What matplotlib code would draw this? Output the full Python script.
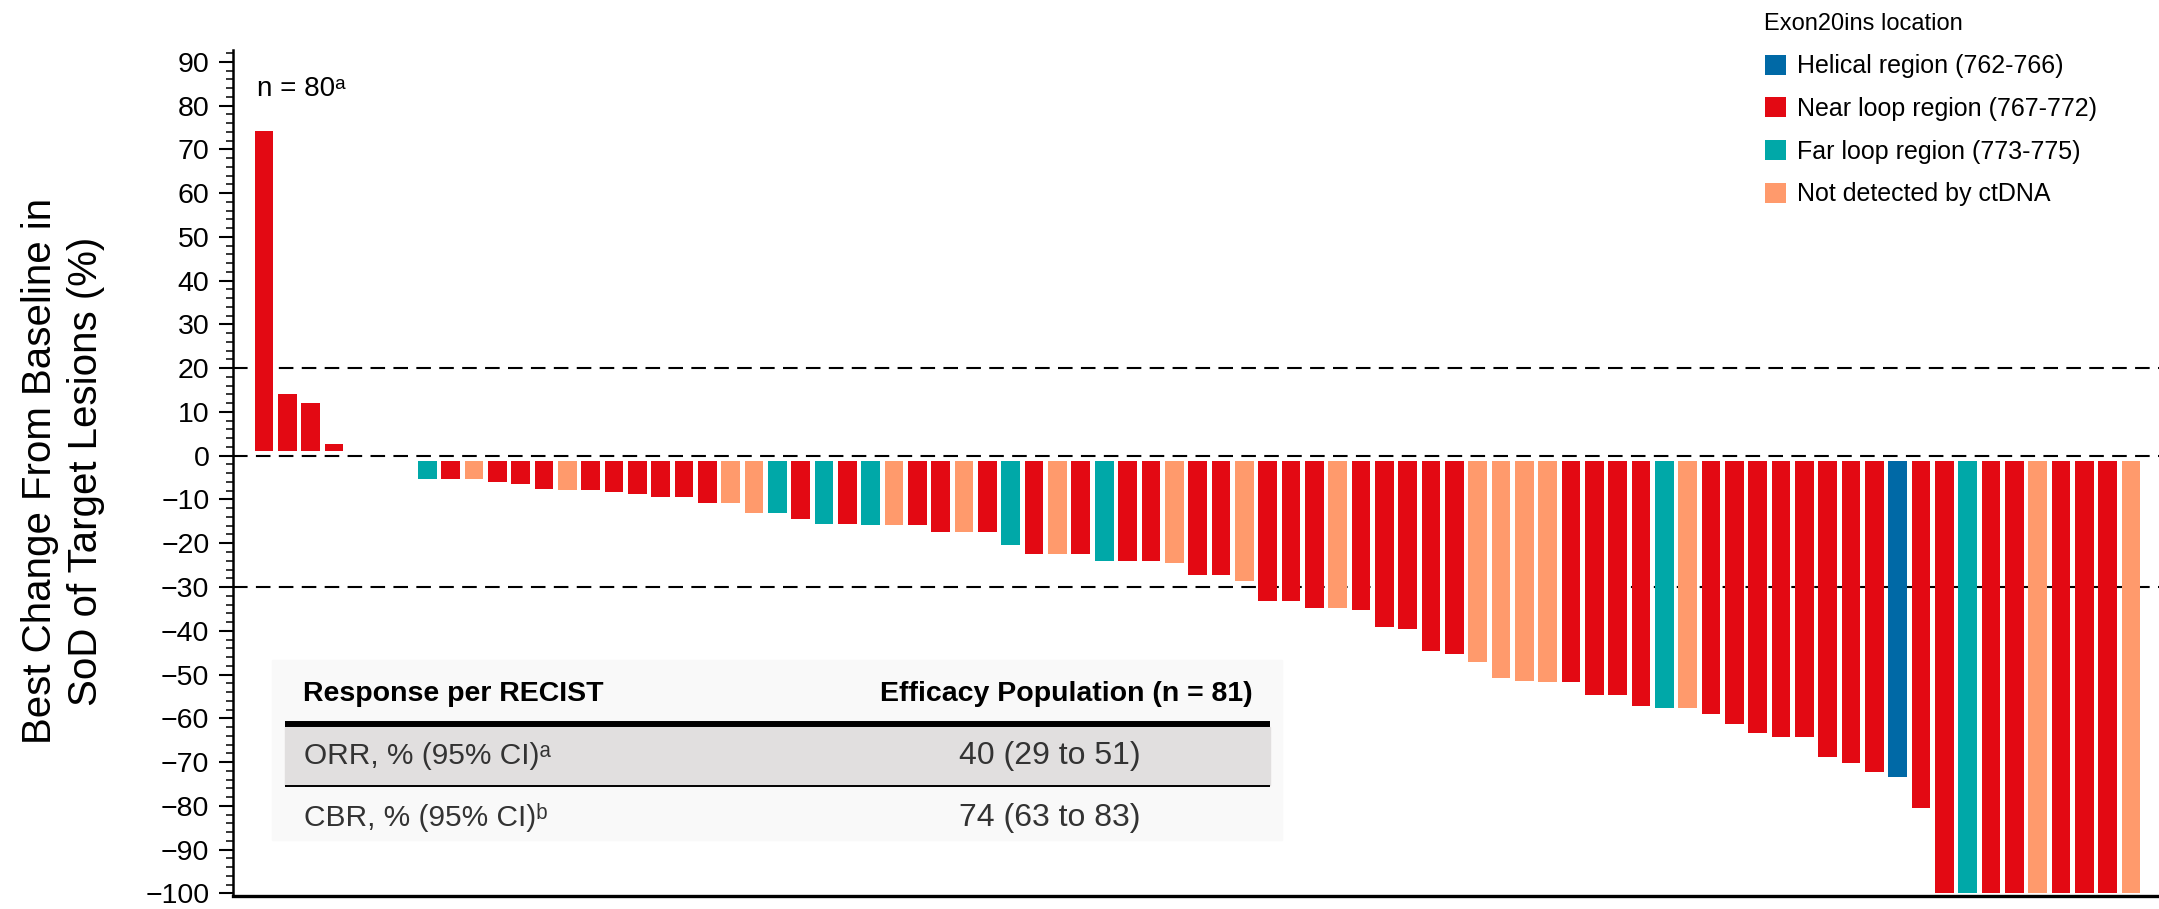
import matplotlib
matplotlib.use("Agg")
import matplotlib.pyplot as plt
import numpy as np
from matplotlib.patches import Patch, Rectangle
from matplotlib.ticker import MultipleLocator

# Datos: mejor cambio (%) por paciente, ordenado como en la figura
# (los tres ceros son el hueco sin barra entre positivos y negativos)
best_change = [74.3, 14.0, 12.1, 2.7, 0.0, 0.0, 0.0,
               -5.4, -5.4, -5.4, -5.9, -6.5, -7.5, -7.8, -7.8, -8.4, -8.8,
               -9.4, -9.4, -10.7, -10.7, -13.1, -13.1, -14.5, -15.5, -15.5, -15.9,
               -15.9, -15.9, -17.4, -17.4, -17.4, -20.5, -22.5, -22.5, -22.5, -24.0,
               -24.0, -24.0, -24.4, -27.2, -27.2, -28.7, -33.3, -33.3, -34.9, -34.9,
               -35.3, -39.1, -39.6, -44.7, -45.2, -47.1, -50.9, -51.4, -51.8, -51.8,
               -54.7, -54.7, -57.1, -57.6, -57.6, -59.0, -61.4, -63.3, -64.2, -64.2,
               -68.9, -70.3, -72.2, -73.5, -80.6, -100, -100, -100, -100, -100,
               -100, -100, -100, -100]

# H = helical, N = near loop, F = far loop, X = no detectado
region = list("NNNNNNN"
              "FNXNNNXNNN"
              "NNNXXFNFNF"
              "XNNXNFNXNF"
              "NNXNNXNNNX"
              "NNNNNXXXXN"
              "NNNFXNNNNN"
              "NNNHNNFNNX"
              "NNNX")

legend_keys = ["H", "N", "F", "X"]
legend_labels = ["Helical region (762-766)", "Near loop region (767-772)",
                 "Far loop region (773-775)", "Not detected by ctDNA"]
colores = {"H": "#0069A6", "N": "#E30913", "F": "#00A8A8", "X": "#FF9A6C"}

table_header = ["Response per RECIST", "Efficacy Population (n = 81)"]
table_rows = ["ORR, % (95% CI)\u1d43", "CBR, % (95% CI)\u1d47"]
table_vals = ["40 (29 to 51)", "74 (63 to 83)"]

fuente = ["Liberation Sans", "DejaVu Sans"]

W, H = 2159, 909
fig = plt.figure(figsize=(W / 100, H / 100), dpi=100)
ax = fig.add_axes([233 / W, 13 / H, 1 - 233 / W, 846 / H])

vals = np.array(best_change)
x = np.arange(len(vals))
base = np.sign(vals) * 1.1
ax.bar(x, vals - base, bottom=base, width=0.8,
       color=[colores[r] for r in region], linewidth=0, zorder=3)

for y in [20, 0, -30]:
    ax.axhline(y, color="black", lw=1.5, dashes=(7, 4), zorder=1)

ax.set_xlim(-1.33, 81.2)
ax.set_ylim(-100.6, 92.7)
ax.set_xticks([])
ax.yaxis.set_major_locator(MultipleLocator(10))
ax.yaxis.set_minor_locator(MultipleLocator(2))
ax.tick_params(axis="y", which="major", length=10, width=1.5, pad=7,
               labelsize=20.5, direction="out")
ax.tick_params(axis="y", which="minor", length=5, width=1.1, direction="out")
for lab in ax.get_yticklabels():
    lab.set_family(fuente)
ax.spines["top"].set_visible(False)
ax.spines["right"].set_visible(False)
ax.spines["left"].set_linewidth(1.8)
ax.spines["bottom"].set_linewidth(2.4)

ax.text(-0.3, 83.8, "n = 80\u1d43", fontsize=20, va="center", ha="left",
        family=fuente)

fig.text(63 / W, 1 - 471 / H, "Best Change From Baseline in\nSoD of Target Lesions (%)",
         rotation=90, ha="center", va="center", multialignment="center",
         fontsize=29, family=fuente, linespacing=1.25)

# Leyenda
handles = [Patch(facecolor=colores[k], edgecolor="none") for k in legend_keys]
leg = fig.legend(handles, legend_labels, title="Exon20ins location",
                 loc="upper left", bbox_to_anchor=(1752 / W, 1 - 1 / H),
                 frameon=False, handlelength=0.85, handleheight=0.85,
                 handletextpad=0.45, labelspacing=0.75, borderpad=0,
                 alignment="left", prop={"family": fuente, "size": 18})
leg.get_title().set_family(fuente)
leg.get_title().set_fontsize(17)

# Tabla (en coordenadas de pixeles)
ov = fig.add_axes([0, 0, 1, 1], zorder=5)
ov.set_xlim(0, W)
ov.set_ylim(H, 0)
ov.axis("off")
ov.patch.set_alpha(0)

ov.add_patch(Rectangle((272, 660), 1010, 180, color="#f9f9f9", zorder=1))
ov.add_patch(Rectangle((285, 727), 985, 58, color="#e1dfdf", zorder=2))
ov.plot([285, 1270], [724, 724], color="black", lw=4.3, zorder=3, solid_capstyle="butt")
ov.plot([285, 1270], [786, 786], color="black", lw=1.4, zorder=3, solid_capstyle="butt")
ov.text(303, 694, table_header[0], fontsize=20.5, fontweight="bold",
        family=fuente, ha="left", va="center", zorder=4)
ov.text(1253, 694, table_header[1], fontsize=20.5, fontweight="bold",
        family=fuente, ha="right", va="center", zorder=4)
for i, (lab, v) in enumerate(zip(table_rows, table_vals)):
    yy = 756 + i * 62
    ov.text(304, yy, lab, fontsize=21.5, family=fuente, color="#333333",
            ha="left", va="center", zorder=4)
    ov.text(1050, yy, v, fontsize=23, family=fuente, color="#333333",
            ha="center", va="center", zorder=4)

fig.savefig("out.png", dpi=100)
